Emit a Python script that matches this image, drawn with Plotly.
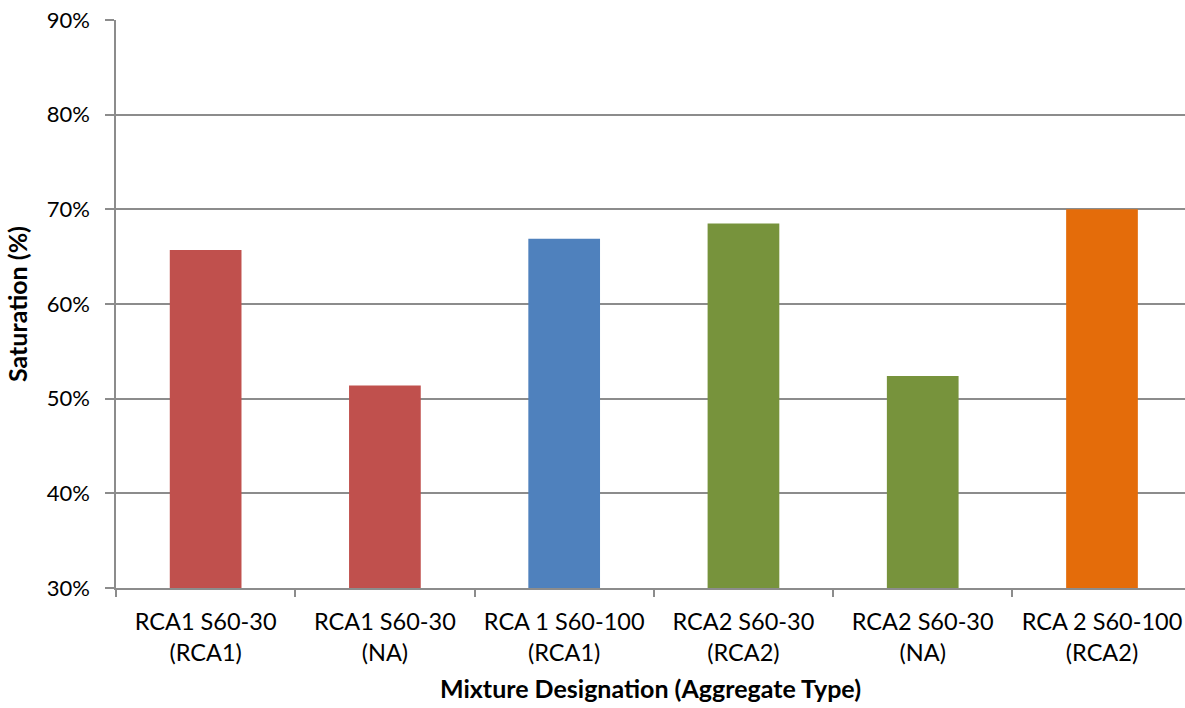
import plotly.graph_objects as go

# Mixture designations (aggregate type in brackets) and degree of saturation
categories = [
    "RCA1 S60-30<br>(RCA1)",
    "RCA1 S60-30<br>(NA)",
    "RCA 1 S60-100<br>(RCA1)",
    "RCA2 S60-30<br>(RCA2)",
    "RCA2 S60-30<br>(NA)",
    "RCA 2 S60-100<br>(RCA2)",
]
saturation = [0.657, 0.514, 0.669, 0.685, 0.524, 0.700]
bar_colors = ["#C0504D", "#C0504D", "#4F81BD", "#77933C", "#77933C", "#E46C0A"]
y_ticks = [0.3, 0.4, 0.5, 0.6, 0.7, 0.8, 0.9]

FONT = "Lato, 'Open Sans', sans-serif"
GRID = "#8C8C8C"

fig = go.Figure(
    go.Bar(
        x=categories,
        y=saturation,
        marker=dict(color=bar_colors, line=dict(width=0)),
        width=0.4,
    )
)

fig.update_layout(
    width=1185,
    height=708,
    margin=dict(l=116, r=0, t=20, b=120),
    paper_bgcolor="white",
    plot_bgcolor="white",
    showlegend=False,
    font=dict(family=FONT, color="#000000"),
)

fig.update_xaxes(
    type="category",
    categoryorder="array",
    categoryarray=categories,
    range=[-0.5, 5.463],
    showgrid=False,
    showline=True,
    linecolor=GRID,
    linewidth=1.5,
    ticks="outside",
    tickson="boundaries",
    ticklen=7,
    tickcolor=GRID,
    tickwidth=1.5,
    tickfont=dict(size=23.5, family=FONT),
    ticklabelstandoff=12,
    title=dict(
        text="<b>Mixture Designation (Aggregate Type)</b>",
        font=dict(size=25, family=FONT),
        standoff=16,
    ),
    zeroline=False,
)

fig.update_yaxes(
    range=[0.3, 0.9],
    tickvals=y_ticks,
    tickformat=".0%",
    showgrid=True,
    gridcolor=GRID,
    gridwidth=1.5,
    showline=True,
    linecolor=GRID,
    linewidth=1.5,
    ticks="outside",
    ticklen=9,
    tickcolor=GRID,
    tickwidth=1.5,
    tickfont=dict(size=22, family=FONT),
    ticklabelstandoff=11,
    title=dict(
        text="<b>Saturation (%)</b>",
        font=dict(size=25, family=FONT),
        standoff=12,
    ),
    zeroline=False,
)

fig.write_html("out.html")
